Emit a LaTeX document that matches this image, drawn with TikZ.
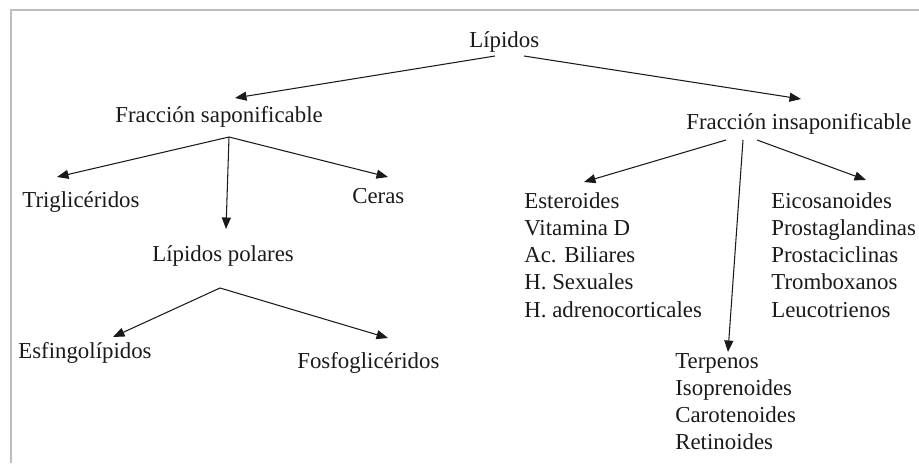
\documentclass[tikz,border=0pt]{standalone}
\usepackage{fontspec}
\setmainfont{Liberation Serif}
\usetikzlibrary{arrows.meta}
\definecolor{framegray}{HTML}{BDBDBD}
\definecolor{inkdark}{HTML}{1A1A1A}

\begin{document}
\begin{tikzpicture}[
    x=0.02cm, y=-0.02cm,
    >={Triangle[length=2.3mm, width=1.8mm]},
    % ── shared styles ──
    term/.style={font=\fontsize{13pt}{15.6pt}\selectfont, text=inkdark,
        inner sep=0pt, anchor=base west},
    branch/.style={->, draw=inkdark, line width=0.6pt},
    frame line/.style={draw=framegray, line width=0.9pt},
]
\useasboundingbox (0,0) rectangle (919,463);

% ══════════════════════════════════════════════════════════════════════
%  FRAME (top and left edges only)
% ══════════════════════════════════════════════════════════════════════
\draw[frame line] (11,463) -- (11,10) -- (919,10);

% ══════════════════════════════════════════════════════════════════════
%  TERMS
% ══════════════════════════════════════════════════════════════════════
\node[term] (lip)   at (469,47)  {Lípidos};
\node[term] (fsap)  at (115,122) {Fracción saponificable};
\node[term] (fins)  at (686,129) {Fracción insaponificable};

% ── saponificable side ──
\node[term] (trig)  at (22,207)  {Triglicéridos};
\node[term] (ceras) at (352,203) {Ceras};
\node[term] (polar) at (152,261) {Lípidos polares};
\node[term] (esf)   at (18,358)  {Esfingolípidos};
\node[term] (fosfo) at (297,368) {Fosfoglicéridos};

% ── insaponificable side (lists) ──
\foreach \name [count=\i] in {Esteroides, Vitamina D, Ac. Biliares,
    H. Sexuales, H. adrenocorticales}
  \node[term] (ster\i) at (524,{208+27.3*(\i-1)}) {\name};
\foreach \name [count=\i] in {Eicosanoides, Prostaglandinas, Prostaciclinas,
    Tromboxanos, Leucotrienos}
  \node[term] (eico\i) at (771,{208+27.3*(\i-1)}) {\name};
\foreach \name [count=\i] in {Terpenos, Isoprenoides, Carotenoides, Retinoides}
  \node[term] (terp\i) at (675,{368+27.3*(\i-1)}) {\name};

% ══════════════════════════════════════════════════════════════════════
%  BRANCHES
% ══════════════════════════════════════════════════════════════════════
\draw[branch] ([shift={(26,9)}]lip.base west)  -- ([shift={(120,-24)}]fsap.base west);
\draw[branch] ([shift={(55,9)}]lip.base west)  -- ([shift={(115,-30)}]fins.base west);

\draw[branch] ([shift={(114,15)}]fsap.base west) -- ([shift={(35,-30)}]trig.base west);
\draw[branch] ([shift={(114,15)}]fsap.base west) -- ([shift={(74,-32)}]polar.base west);
\draw[branch] ([shift={(114,15)}]fsap.base west) -- ([shift={(36,-26)}]ceras.base west);

\draw[branch] ([shift={(68,27)}]polar.base west) -- ([shift={(95,-21)}]esf.base west);
\draw[branch] ([shift={(68,27)}]polar.base west) -- ([shift={(91,-30)}]fosfo.base west);

\draw[branch] ([shift={(40,11)}]fins.base west) -- ([shift={(60,-26)}]ster1.base west);
\draw[branch] ([shift={(57,11)}]fins.base west) -- ([shift={(53,-16)}]terp1.base west);
\draw[branch] ([shift={(71,11)}]fins.base west) -- ([shift={(95,-28)}]eico1.base west);

\end{tikzpicture}
\end{document}
